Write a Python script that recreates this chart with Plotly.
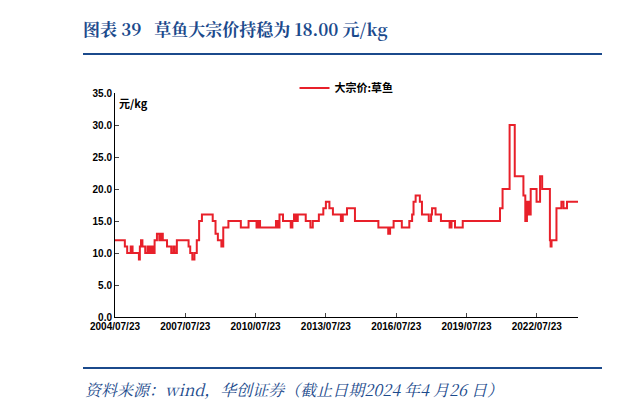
import pandas as pd
import plotly.graph_objects as go

# decimal years where the price steps to a new level, and the level (元/kg)
years = [2004.56, 2004.98, 2005.08, 2005.23, 2005.31, 2005.58, 2005.62, 2005.67, 2005.73, 2005.85,
         2005.95, 2006.02, 2006.1, 2006.17, 2006.25, 2006.35, 2006.45, 2006.52, 2006.6, 2006.78,
         2006.96, 2007.05, 2007.11, 2007.2, 2007.3, 2007.7, 2007.77, 2007.86, 2007.95, 2008.05,
         2008.15, 2008.27, 2008.35, 2008.73, 2008.85, 2008.95, 2009.1, 2009.18, 2009.4, 2009.93,
         2010.26, 2010.6, 2010.68, 2010.75, 2011.43, 2011.5, 2011.58, 2011.73, 2012.06, 2012.13,
         2012.2, 2012.28, 2012.36, 2012.7, 2012.9, 2013.0, 2013.26, 2013.45, 2013.56, 2013.71,
         2013.86, 2014.2, 2014.28, 2014.46, 2014.8, 2015.8, 2016.22, 2016.3, 2016.45, 2016.8,
         2017.12, 2017.24, 2017.3, 2017.39, 2017.57, 2017.66, 2017.95, 2018.05, 2018.09, 2018.24,
         2018.47, 2018.84, 2018.92, 2019.07, 2019.4, 2020.99, 2021.1, 2021.4, 2021.62, 2021.99,
         2022.07, 2022.14, 2022.22, 2022.3, 2022.55, 2022.7, 2022.79, 2023.12, 2023.15, 2023.19,
         2023.4, 2023.61, 2023.7, 2023.85, 2024.32]
price = [12, 11, 10, 11, 10, 9, 11, 12, 11, 10,
         11, 10, 11, 10, 12, 13, 12, 13, 12, 11,
         10, 11, 10, 12, 12, 11, 10, 9, 10, 12,
         15, 16, 16, 15, 13, 12, 11, 14, 15, 14,
         15, 14, 15, 14, 15, 14, 16, 15, 14, 15,
         16, 15, 16, 15, 14, 15, 16, 17, 18, 17,
         16, 15, 16, 17, 15, 14, 13, 14, 15, 14,
         15, 16, 18, 19, 18, 16, 15, 16, 17, 16,
         15, 14, 15, 14, 15, 17, 20, 30, 22, 19,
         15, 18, 16, 20, 18, 22, 20, 12, 11, 12,
         17, 18, 17, 18, 18]
tick_dates = ["2004-07-23", "2007-07-23", "2010-07-23", "2013-07-23",
              "2016-07-23", "2019-07-23", "2022-07-23"]
tick_text = [d.replace("-", "/") for d in tick_dates]


def to_date(y):
    return pd.Timestamp("2004-07-23") + pd.Timedelta(days=(y - 2004.56) * 365.25)


dates = [to_date(y) for y in years]
blue = "#1B4A8C"
L, R, T, B = 107, 50, 85, 92
PW, PH = 620 - L - R, 401 - T - B


def px(x):
    return (x - L) / PW


def py(y):
    return (401 - B - y) / PH


fig = go.Figure()
fig.add_trace(go.Scatter(x=dates, y=price, mode="lines", line_shape="hv",
                         line=dict(color="#E8202A", width=2), name="大宗价:草鱼"))

fig.update_layout(
    width=620, height=401, paper_bgcolor="white", plot_bgcolor="white",
    margin=dict(l=L, r=R, t=T, b=B),
    font=dict(family="Arial, Liberation Sans", size=10, color="black"),
    showlegend=True,
    legend=dict(orientation="h", x=0.5, xanchor="center", y=py(80), yanchor="middle",
                font=dict(size=11, family="Noto Sans CJK SC", weight="bold")),
    title=dict(text="图表 39   草鱼大宗价持稳为 18.00 元/kg", x=75 / 620, xanchor="left",
               y=1 - 22 / 401, yanchor="middle",
               font=dict(family="Noto Serif CJK SC, Noto Sans CJK SC", size=17, color=blue, weight="bold")),
)
fig.update_xaxes(range=[pd.Timestamp("2004-07-23"), pd.Timestamp("2024-04-26")],
                 tickvals=[pd.Timestamp(d) for d in tick_dates], ticktext=tick_text,
                 showline=True, linecolor="black", linewidth=1, showgrid=False,
                 ticks="inside", ticklen=4, tickfont=dict(weight="bold"))
fig.update_yaxes(range=[0, 35], dtick=5, tickformat=".1f",
                 showline=True, linecolor="black", linewidth=1, showgrid=False,
                 ticks="inside", ticklen=4, tickfont=dict(weight="bold"))

fig.add_annotation(text="元/kg", xref="paper", yref="paper", x=0.005, y=1.0,
                   xanchor="left", yanchor="top", showarrow=False,
                   font=dict(size=11, family="Noto Sans CJK SC", weight="bold"))
for yy in [46, 360]:
    fig.add_shape(type="line", xref="paper", yref="paper",
                  x0=px(75), x1=px(594), y0=py(yy), y1=py(yy),
                  line=dict(color=blue, width=2))
fig.add_annotation(text="资料来源：wind，华创证券（截止日期2024 年4 月26 日）",
                   xref="paper", yref="paper", x=px(75), y=py(381),
                   xanchor="left", yanchor="middle", showarrow=False,
                   font=dict(size=16, color=blue, family="Noto Serif CJK SC, Noto Sans CJK SC", style="italic"))

fig.write_html("out.html")
